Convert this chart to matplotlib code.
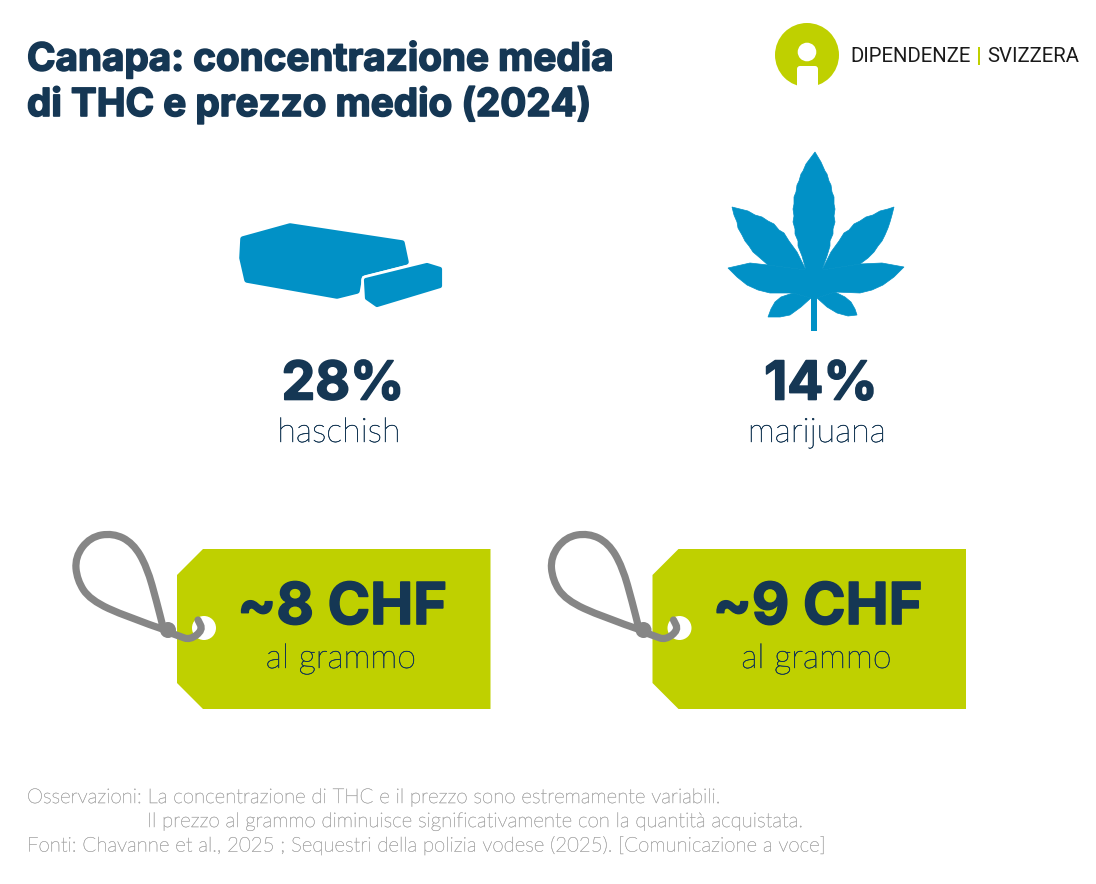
import matplotlib
matplotlib.use("Agg")
import matplotlib.pyplot as plt
import matplotlib.patheffects as pe
from matplotlib.patches import Circle, FancyBboxPatch, PathPatch, Polygon, Rectangle
from matplotlib.path import Path

# values shown in the graphic
products = ["haschish", "marijuana"]
thc_percent = [28, 14]
price_chf = [8, 9]
price_unit = "al grammo"
title_lines = ["Canapa: concentrazione media", "di THC e prezzo medio (2024)"]
note_lines = [
    "Osservazioni: La concentrazione di THC e il prezzo sono estremamente variabili.",
    "Il prezzo al grammo diminuisce significativamente con la quantità acquistata.",
    "Fonti: Chavanne et al., 2025 ; Sequestri della polizia vodese (2025). [Comunicazione a voce]",
]

NAVY = "#153754"
BLUE = "#0191c6"
LIME = "#bfd000"
GREY = "#868686"
NOTE = "#a9a9a9"
HEAVY = "Inter"
BODY = "Lato"

# x centre of each product column, left edge of each price tag
col_x = [339, 817]
tag_x = [177, 652.5]

fig = plt.figure(figsize=(10.96, 8.84), dpi=100)
ax = fig.add_axes([0, 0, 1, 1])
ax.set_xlim(0, 1096)
ax.set_ylim(884, 0)
ax.axis("off")

# fake weights between the installed fonts
thick = [pe.withStroke(linewidth=1.2, foreground=NAVY)]
semi = [pe.withStroke(linewidth=0.35, foreground=NAVY)]
semi_note = [pe.withStroke(linewidth=0.25, foreground=NOTE)]


def smooth(points):
    # open line through the points, rounded with quadratic segments
    verts = [points[0]]
    codes = [Path.MOVETO]
    for i in range(1, len(points) - 1):
        mid = ((points[i][0] + points[i + 1][0]) / 2, (points[i][1] + points[i + 1][1]) / 2)
        verts += [points[i], mid]
        codes += [Path.CURVE3, Path.CURVE3]
    verts.append(points[-1])
    codes.append(Path.LINETO)
    return Path(verts, codes)


def draw_hash():
    big = [(243, 239), (290, 226), (402, 243), (406, 262), (360, 274), (357, 291),
           (337, 296), (247, 280), (242, 258)]
    small = [(366, 280), (427, 265), (440, 269), (440, 286), (377, 305), (367, 298)]
    ax.add_patch(Polygon(big, closed=True, fc=BLUE, ec=BLUE, lw=4, joinstyle="round"))
    ax.add_patch(Polygon(small, closed=True, fc="white", ec="white", lw=7, joinstyle="round"))
    ax.add_patch(Polygon(small, closed=True, fc=BLUE, ec=BLUE, lw=3, joinstyle="round"))


def draw_leaf():
    top = [(806, 270), (802, 256), (798, 246), (798, 241), (795, 234), (795, 229), (793, 222),
           (794, 216), (793, 209), (794, 204), (794, 197), (796, 192), (797, 185), (799, 181),
           (801, 174), (803, 171), (806, 164), (815, 152), (821, 162), (825, 171), (827, 174),
           (829, 181), (831, 185), (832, 192), (834, 197), (834, 204), (835, 209), (834, 216),
           (835, 222), (833, 229), (833, 234), (830, 241), (830, 246), (827, 256), (822, 270)]
    upper_left = [(806, 270), (797, 252), (789, 241), (784, 233), (779, 230), (774, 224), (768, 221),
                  (762, 217), (755, 215), (748, 211), (740, 209), (732, 207), (734, 215), (737, 222),
                  (738, 228), (742, 235), (745, 241), (749, 246), (753, 252), (760, 258), (768, 265)]
    upper_right = [(822, 270), (831, 252), (839, 241), (844, 233), (849, 230), (854, 224), (860, 221),
                   (866, 217), (873, 215), (880, 211), (888, 209), (894, 207), (892, 215), (890, 222),
                   (888, 228), (885, 235), (882, 241), (878, 246), (874, 252), (868, 258), (860, 264)]
    lower = [(768, 265), (750, 263), (728, 268), (737, 277), (747, 285), (758, 290), (770, 293),
             (793, 293), (811, 298), (817, 298), (835, 292), (860, 293), (872, 290), (883, 285),
             (894, 277), (904, 267), (882, 263), (860, 264), (822, 270), (806, 270)]
    small_left = [(793, 293), (781, 297), (775, 302), (771, 309), (768, 317), (780, 317), (790, 315),
                  (801, 307), (811, 298)]
    small_right = [(835, 292), (845, 297), (851, 302), (855, 309), (857, 315), (848, 316), (837, 313),
                   (827, 307), (817, 298)]
    for shape in (top, upper_left, upper_right, lower, small_left, small_right):
        ax.add_patch(Polygon(shape, closed=True, fc=BLUE, ec=BLUE, lw=0.5))
    ax.add_patch(Rectangle((811, 295), 6, 36, fc=BLUE, ec="none"))


def draw_tag(x0, value):
    x1 = x0 + 313.5
    outline = [(x0 + 26, 549), (x1, 549), (x1, 709), (x0 + 26, 709), (x0, 683), (x0, 575)]
    ax.add_patch(Polygon(outline, closed=True, fc=LIME, ec="none"))
    ax.add_patch(Circle((x0 + 27, 628), 12, fc="white", ec="none", zorder=3))

    loop = [(-9, 82), (-50, 68), (-87, 51), (-100, 31), (-102, 8), (-87, -12), (-64, -16),
            (-44, -6), (-30, 18), (-20, 54), (-14, 78)]
    tail = [(-9, 83), (2, 87), (13, 91), (26, 81), (21, 71)]
    for part in (loop, tail):
        pts = [(x0 + dx, 549 + dy) for dx, dy in part]
        ax.add_patch(PathPatch(smooth(pts), fc="none", ec=GREY, lw=5.2, capstyle="round", zorder=4))
    ax.add_patch(Circle((x0 - 9, 630), 8, fc=GREY, ec="none", zorder=5))

    centre = x0 + 165
    ax.text(centre, 609, f"~{value} CHF", family=HEAVY, weight="bold", fontsize=41.5,
            color=NAVY, ha="center", va="center", zorder=6, path_effects=thick)
    ax.text(centre - 1, 659, price_unit, family=BODY, weight="light", fontsize=24.5,
            color=NAVY, ha="center", va="center", zorder=6, path_effects=semi)


def draw_logo():
    ax.add_patch(Circle((807, 55), 32, fc=LIME, ec="none"))
    ax.add_patch(Circle((807, 52), 9.3, fc="white", ec="none"))
    ax.add_patch(FancyBboxPatch((800, 69), 15, 30, boxstyle="round,pad=3", fc="white", ec="none"))
    ax.add_patch(Rectangle((770, 86), 75, 10, fc="white", ec="none"))
    ax.text(850, 56, "DIPENDENZE", family="Roboto", fontsize=14.7, color="#1a1a1a",
            ha="left", va="center")
    ax.add_patch(Rectangle((977.5, 47), 2, 18, fc=LIME, ec="none"))
    ax.text(987, 56, "SVIZZERA", family="Roboto", fontsize=14.7, color="#1a1a1a",
            ha="left", va="center")


for i, line in enumerate(title_lines):
    ax.text(27, 60 + i * 45, line, family=HEAVY, weight="bold", fontsize=27.8,
            color=NAVY, ha="left", va="center", path_effects=thick)

draw_logo()
draw_hash()
draw_leaf()

for x, pct, name in zip(col_x, thc_percent, products):
    ax.text(x + 4, 385, f"{pct}%", family=HEAVY, weight="bold", fontsize=38.5,
            color=NAVY, ha="center", va="center", path_effects=thick)
    ax.text(x, 433, name, family=BODY, weight="light", fontsize=24.5,
            color=NAVY, ha="center", va="center", path_effects=semi)

for x, value in zip(tag_x, price_chf):
    draw_tag(x, value)

for x, y, line in zip([27, 147, 27], [798, 822, 846], note_lines):
    ax.text(x, y, line, family=BODY, weight="light", fontsize=14.7, color=NOTE, va="center",
            path_effects=semi_note)

fig.savefig("out.png", dpi=100)
